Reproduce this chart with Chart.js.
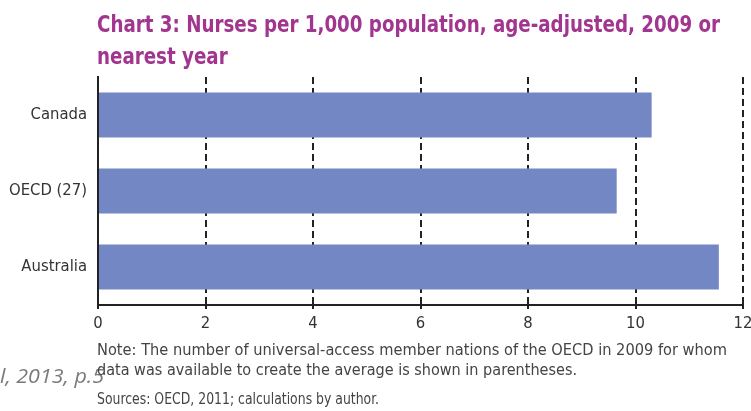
<!DOCTYPE html>
<html>
<head>
<meta charset="utf-8">
<script src="https://cdn.jsdelivr.net/npm/chart.js@4/dist/chart.umd.min.js"></script>
<style>
  html, body { margin: 0; padding: 0; background: #fff; }
  body { width: 751px; height: 411px; position: relative; overflow: hidden; }
  #wrap { position: absolute; left: 0; top: 0; width: 751px; height: 411px; }
  .t { position: absolute; white-space: nowrap; transform-origin: left top; }
  #title { left: 97px; top: 8px; font-family: "Liberation Sans Narrow", "DejaVu Sans Condensed", "Roboto", sans-serif; font-weight: bold; font-size: 23px; color: #a1358f; line-height: 32px; }
  .note { left: 97px; font-family: "Liberation Sans Narrow", "DejaVu Sans Condensed", sans-serif; font-size: 15.5px; color: #444; }
  #cite { left: 0px; top: 362px; font-family: "Open Sans", sans-serif; font-style: italic; font-size: 19.5px; color: #7a7a7a; }
</style>
</head>
<body>
<div id="wrap"><canvas id="c" width="751" height="411"></canvas></div>
<div class="t" id="title" data-w="623">Chart 3: Nurses per 1,000 population, age-adjusted, 2009 or<br>nearest year</div>
<div class="t" id="cite" data-w="104">l, 2013, p.5</div>
<div class="t note" style="top:341px" data-w="630">Note: The number of universal-access member nations of the OECD in 2009 for whom</div>
<div class="t note" style="top:361px" data-w="480">data was available to create the average is shown in parentheses.</div>
<div class="t note" style="top:390px" data-w="282">Sources: OECD, 2011; calculations by author.</div>
<script>
const categories = ["Canada", "OECD (27)", "Australia"];
const nursesPer1000 = [10.3, 9.65, 11.55];
const xTicks = [0, 2, 4, 6, 8, 10, 12];

const FONT = '"Liberation Sans Narrow", "DejaVu Sans Condensed", sans-serif';

new Chart(document.getElementById('c'), {
  type: 'bar',
  data: {
    labels: categories,
    datasets: [{
      data: nursesPer1000,
      backgroundColor: 'rgb(114,135,195)',
      borderWidth: 0,
      barPercentage: 0.59,
      categoryPercentage: 1
    }]
  },
  options: {
    indexAxis: 'y',
    responsive: false,
    animation: false,
    layout: { padding: { top: 77, right: 8, bottom: 0, left: 0 } },
    plugins: { legend: { display: false }, tooltip: { enabled: false }, title: { display: false } },
    scales: {
      x: {
        min: 0, max: 12,
        afterBuildTicks: (s) => { s.ticks = xTicks.map(v => ({ value: v })); },
        afterFit: (s) => { s.height = 106; s.paddingRight = 0; s.paddingLeft = 0; },
        grid: { color: '#222', lineWidth: 2, drawTicks: true, tickLength: 4, tickColor: '#222', tickWidth: 2 },
        border: { display: true, color: '#222', width: 2, dash: [7, 4] },
        ticks: { color: '#333', padding: 5, font: { family: FONT, size: 16.5 }, maxRotation: 0 }
      },
      y: {
        afterFit: (s) => { s.width = 98; },
        grid: { display: false, drawTicks: false },
        border: { display: true, color: '#222', width: 2 },
        ticks: { color: '#333', padding: 11, font: { family: FONT, size: 16.5 } }
      }
    }
  }
});

document.querySelectorAll('[data-w]').forEach(el => {
  const target = +el.dataset.w;
  const w = el.getBoundingClientRect().width;
  if (w > 0) el.style.transform = 'scaleX(' + (target / w) + ')';
});
</script>
</body>
</html>
